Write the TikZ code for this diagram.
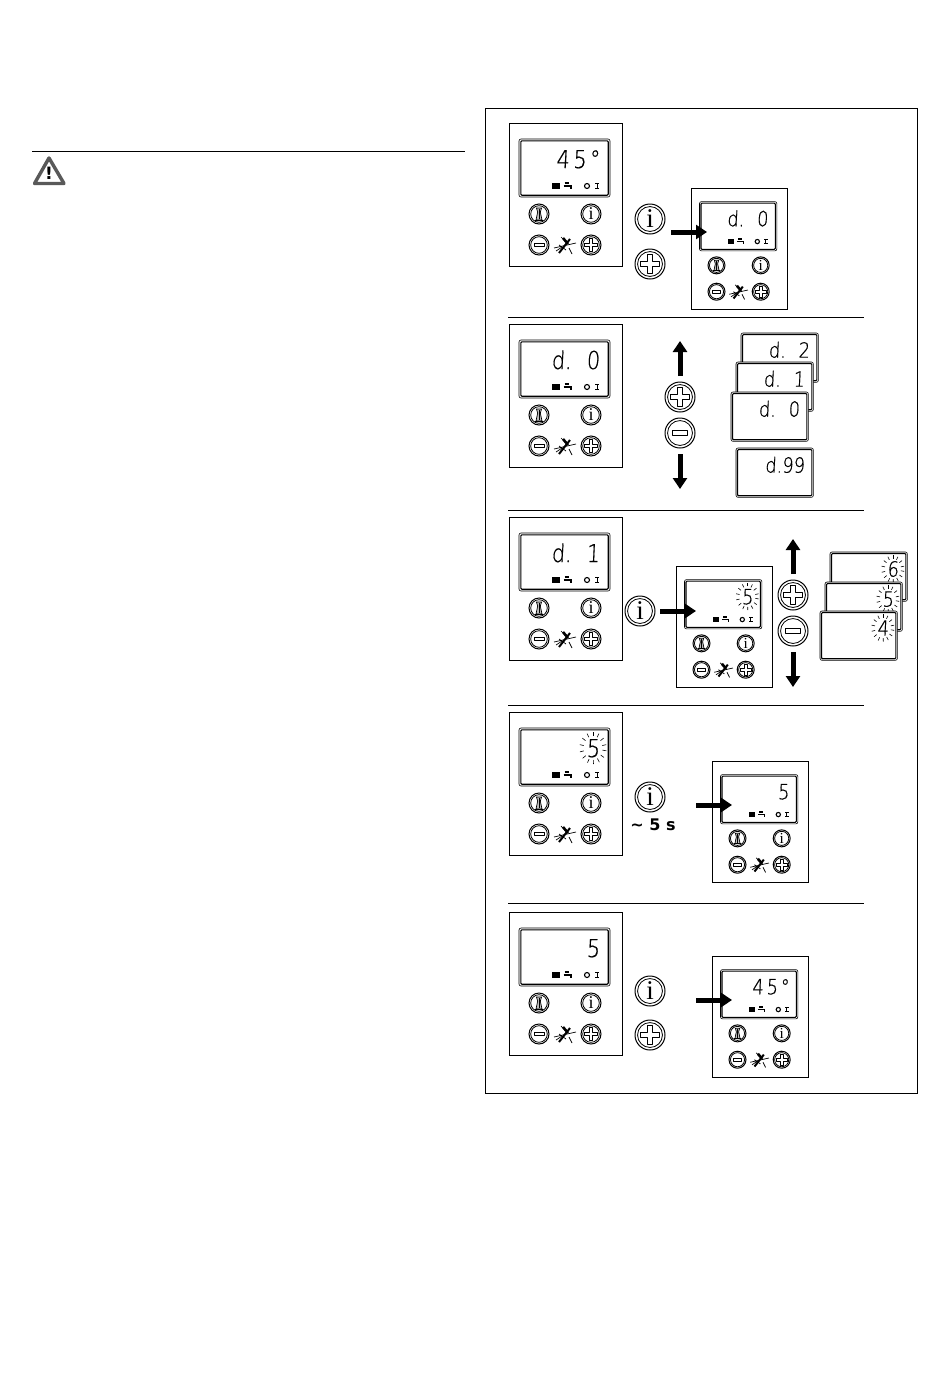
\documentclass[tikz,border=0pt]{standalone}
\usepackage{fontspec}
\usetikzlibrary{arrows.meta}
\newfontfamily\lcdfont[FakeSlant=0.05,FakeStretch=0.85,FakeBold=0.5]{DejaVu Sans ExtraLight}
\newfontfamily\ifont{Liberation Serif}
\newfontfamily\capfont{DejaVu Sans}
\tikzset{
  x=1pt,y=-1pt,
  panelbox/.style={draw=black,line width=0.9pt,fill=white,rounded corners=0pt},
  lcdtext/.style={anchor=base east,inner sep=0pt,font=\fontsize{24.6}{26}\lcdfont,transform shape},
  btnring/.style={circle,draw=black,line width=1pt,minimum size=20pt,inner sep=0pt,fill=white,transform shape},
  ifontstyle/.style={inner sep=0pt,font=\fontsize{18}{19}\ifont,transform shape},
  glyphline/.style={draw=black,line width=0.8pt,line join=round},
  rule/.style={draw=black,line width=0.9pt},
  bigarrow/.style={draw=black,line width=5pt,-{Triangle[width=14pt,length=11pt]},shorten >=0pt},
  ray/.style={draw=black,line width=0.6pt},
}
% ---- button glyphs (r = 10)
\newcommand\glyphplus{\draw[glyphline] (-1.8,-6.3)--(1.8,-6.3)--(1.8,-1.8)--(6.3,-1.8)--(6.3,1.8)--(1.8,1.8)--(1.8,6.3)--(-1.8,6.3)--(-1.8,1.8)--(-6.3,1.8)--(-6.3,-1.8)--(-1.8,-1.8)--cycle;}
\newcommand\glyphminus{\draw[glyphline] (-5,-1.7) rectangle (5,1.7);}
\newcommand\glyphi{\node[ifontstyle] (gi\thepanelid) at (0,0) {i};\stepcounter{panelid}}
\newcommand\glyphsweep{%
  \draw[glyphline,line width=0.7pt,fill=black!25] (-3,6)--(-1.3,-2)--(-2.6,-6)--(2.6,-6)--(1.3,-2)--(3,6)--cycle;
  \draw[glyphline,line width=0.7pt] (-4,6)--(4,6);
  \draw[glyphline,line width=1pt] (0,-5)--(0,5);}
\newcounter{panelid}
% name,x,y,kind
\newcommand\btn[4]{%
  \node[btnring] (#1) at (#2,#3) {};
  \begin{scope}[shift={(#2,#3)}]
    \draw[black,line width=0.8pt] (0,0) circle (8.3);
    \csname glyph#4\endcsname
  \end{scope}}
\newcommand\bigbtn[4]{\begin{scope}[shift={(#2,#3)},scale=1.5]\btn{#1}{0}{0}{#4}\end{scope}}
% flashing rays centred on the last digit: x,y
\newcommand\rays[2]{%
  \foreach \a in {10,36,...,350}{\draw[ray] ([shift={(\a:9.5 and 12)}]#1,#2) -- ([shift={(\a:13.5 and 16)}]#1,#2);}}
% local screen 91x58: name, text
\newcommand\lcdframe[2]{%
  \draw[draw=black,line width=0.6pt,fill=white,rounded corners=2pt] (0,0) rectangle (91,58);
  \draw[draw=black,line width=1.1pt,rounded corners=1pt] (1.8,1.8) rectangle (89.2,56.2);
  \node[lcdtext] (#1) at (81,29) {#2};}
% stand-alone screen: name,x,y,text,ray flag
\newcommand\stackscreen[5]{%
  \begin{scope}[shift={(#2,#3)},scale=0.85]
    \lcdframe{#1}{#4}
    \ifnum#5=1 \rays{74}{20}\fi
  \end{scope}}
% panel: name,x,y,scale,text,rayflag
\newcommand\panel[6]{%
  \begin{scope}[shift={(#2,#3)},scale=#4]
    \draw[panelbox] (0,0) rectangle (113,143);
    \begin{scope}[shift={(10,16)}]
      \lcdframe{#1-lcd}{#5}
      \ifnum#6=1 \rays{74}{20}\fi
    \end{scope}
    \fill[black] (43,60) rectangle (51,66);
    \draw[black,line width=1.1pt] (55.5,60)--(60,60) (54.5,63)--(62,63)--(62,65.5);
    \draw[black,line width=1.1pt] (78,63) circle (2.5);
    \draw[black,line width=0.9pt] (86,60.3)--(90,60.3) (86,65.5)--(90,65.5) (88,60.3)--(88,65.5);
    \btn{#1-sw}{30}{91}{sweep}
    \btn{#1-in}{82}{91}{i}
    \btn{#1-mi}{30}{122}{minus}
    \btn{#1-pl}{82}{122}{plus}
    \begin{scope}[shift={(56,122)}]
      \draw[black,line width=2pt] (-6,8)--(5,-6);
      \draw[black,line width=2.6pt] (-2,-7)--(3,-1);
      \draw[black,line width=0.7pt] (-11,3)--(11,-2) (-9,6)--(-3,2) (-6,0)--(1,5) (4,3)--(7,9) (-4,-8)--(0,-4);
    \end{scope}
  \end{scope}}
\begin{document}
\begin{tikzpicture}
\useasboundingbox (0,0) rectangle (950,1387);
\fill[white] (0,0) rectangle (950,1387);
% left column
\draw[rule] (32,151)--(465,151);
\draw[draw=black!65,fill=white,line width=3.4pt,line join=round] (49,158)--(34.5,183.5)--(64,183.5)--cycle;
\node[inner sep=0pt,font=\fontsize{17}{18}\capfont\bfseries] (warn) at (49,173) {!};
% frame
\draw[rule] (485,108) rectangle (917,1093);
\draw[rule] (508,317)--(864,317);
\draw[rule] (508,510)--(864,510);
\draw[rule] (508,705)--(864,705);
\draw[rule] (508,903)--(864,903);
% row 1
\panel{pa}{509}{123}{1}{4\kern3.5pt 5\kern3pt °}{0}
\panel{pb}{691}{188}{0.85}{d.\hspace{15pt}0}{0}
\bigbtn{ba}{650}{219}{i}
\bigbtn{bb}{650}{264}{plus}
\coordinate (a1s) at (671,232); \coordinate (a1e) at (707,232);
\draw[bigarrow] (a1s)--(a1e);
% row 2
\panel{pc}{509}{324}{1}{d.\hspace{15pt}0}{0}
\bigbtn{bc}{680}{397}{plus}
\bigbtn{bd}{680}{433}{minus}
\coordinate (a2s) at (680,376); \coordinate (a2e) at (680,341);
\coordinate (a3s) at (680,454); \coordinate (a3e) at (680,489);
\draw[bigarrow] (a2s)--(a2e);
\draw[bigarrow] (a3s)--(a3e);
\stackscreen{sa}{741}{333}{d.\hspace{15pt}2}{0}
\stackscreen{sb}{736}{362}{d.\hspace{15pt}1}{0}
\stackscreen{sc}{731}{392}{d.\hspace{15pt}0}{0}
\stackscreen{sd}{736}{448}{d.99}{0}
% row 3
\panel{pd}{509}{517}{1}{d.\hspace{15pt}1}{0}
\panel{pe}{676}{566}{0.85}{5}{1}
\bigbtn{be}{640}{611}{i}
\coordinate (a4s) at (660,611); \coordinate (a4e) at (696,611);
\draw[bigarrow] (a4s)--(a4e);
\bigbtn{bf}{793}{595}{plus}
\bigbtn{bg}{793}{631}{minus}
\coordinate (a5s) at (793,574); \coordinate (a5e) at (793,539);
\coordinate (a6s) at (793,652); \coordinate (a6e) at (793,687);
\draw[bigarrow] (a5s)--(a5e);
\draw[bigarrow] (a6s)--(a6e);
\stackscreen{se}{830}{552}{6}{1}
\stackscreen{sf}{825}{582}{5}{1}
\stackscreen{sg}{820}{611}{4}{1}
% row 4
\panel{pf}{509}{712}{1}{5}{1}
\panel{pg}{712}{761}{0.85}{5}{0}
\bigbtn{bh}{650}{797}{i}
\node[inner sep=0pt,font=\fontsize{16}{18}\capfont\bfseries] (wait) at (653,825) {\textasciitilde\ 5 s};
\coordinate (a7s) at (696,805); \coordinate (a7e) at (732,805);
\draw[bigarrow] (a7s)--(a7e);
% row 5
\panel{ph}{509}{912}{1}{5}{0}
\panel{pi}{712}{956}{0.85}{4\kern3.5pt 5\kern3pt °}{0}
\bigbtn{bi}{650}{991}{i}
\bigbtn{bj}{650}{1035}{plus}
\coordinate (a8s) at (696,1000); \coordinate (a8e) at (732,1000);
\draw[bigarrow] (a8s)--(a8e);
\end{tikzpicture}
\end{document}
